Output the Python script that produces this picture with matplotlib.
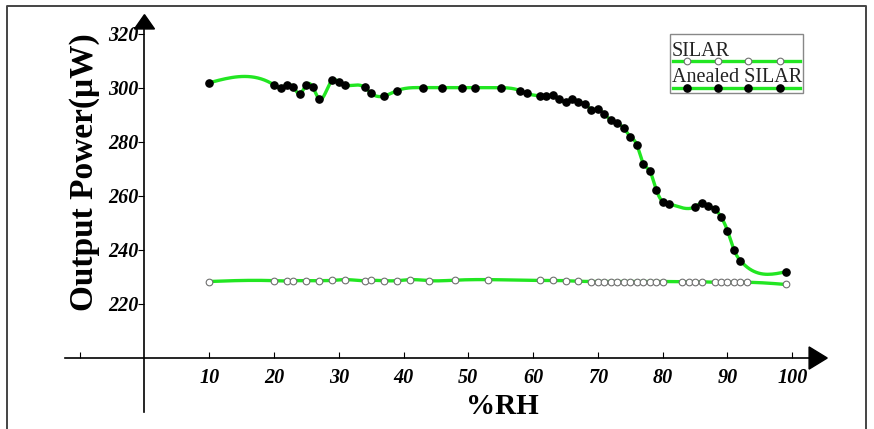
import numpy as np
import matplotlib
matplotlib.use('Agg')
import matplotlib.pyplot as plt

rh_silar = [10, 20, 22, 23, 25, 27, 29, 31, 34, 35, 37, 39, 41, 44, 48, 53,
            61, 63, 65, 67, 69, 70, 71, 72, 73, 74, 75, 76, 77, 78, 79, 80,
            83, 84, 85, 86, 88, 89, 90, 91, 92, 93, 99]
pw_silar = [228.3, 228.6, 228.5, 228.6, 228.6, 228.6, 228.7, 229.0, 228.6, 228.7,
            228.6, 228.6, 229.0, 228.6, 228.8, 229.0,
            228.7, 228.7, 228.6, 228.4, 228.3, 228.3, 228.3, 228.3, 228.3, 228.3,
            228.3, 228.3, 228.3, 228.3, 228.3, 228.3,
            228.2, 228.2, 228.2, 228.2, 228.0, 228.0, 228.0, 228.0, 228.0, 228.0, 227.2]

rh_aneal = [10, 20, 21, 22, 23, 24, 25, 26, 27, 29, 30, 31, 34, 35, 37, 39, 43, 46,
            49, 51, 55, 58, 59, 61, 62, 63, 64, 65, 66, 67, 68, 69, 70, 71, 72, 73,
            74, 75, 76, 77, 78, 79, 80, 81, 85, 86, 87, 88, 89, 90, 91, 92, 99]
pw_aneal = [301.8, 301.0, 300.0, 301.1, 300.1, 297.7, 301.1, 300.1, 295.7, 302.8,
            302.1, 300.9, 300.1, 297.9, 296.9, 298.9, 300.0, 300.0, 300.0, 300.0,
            300.0, 298.9, 297.9, 297.0, 297.0, 297.1, 295.8, 294.7, 295.8, 294.8,
            294.0, 291.9, 292.0, 290.2, 288.0, 286.8, 285.0, 281.9, 278.9, 271.9,
            269.2, 262.3, 257.8, 256.9, 256.0, 257.2, 256.2, 255.2, 252.2, 247.1,
            240.0, 236.0, 231.9]

x_ticks = [-10, 10, 20, 30, 40, 50, 60, 70, 80, 90, 100]
x_labels = ['', '10', '20', '30', '40', '50', '60', '70', '80', '90', '100']
y_ticks = [220, 240, 260, 280, 300, 320]

GREEN = '#22e622'
plt.rcParams['font.family'] = 'Liberation Serif'


def smooth(xs, ys, pts=20):
    # natural cubic spline through the measured points (for the drawn curve)
    x = np.asarray(xs, float)
    y = np.asarray(ys, float)
    n = len(x)
    h = np.diff(x)
    A = np.zeros((n, n))
    b = np.zeros(n)
    A[0, 0] = A[-1, -1] = 1
    for i in range(1, n - 1):
        A[i, i - 1] = h[i - 1]
        A[i, i] = 2 * (h[i - 1] + h[i])
        A[i, i + 1] = h[i]
        b[i] = 3 * ((y[i + 1] - y[i]) / h[i] - (y[i] - y[i - 1]) / h[i - 1])
    c = np.linalg.solve(A, b)
    xx, yy = [], []
    for i in range(n - 1):
        t = np.linspace(0, h[i], pts, endpoint=False)
        bi = (y[i + 1] - y[i]) / h[i] - h[i] * (2 * c[i] + c[i + 1]) / 3
        di = (c[i + 1] - c[i]) / (3 * h[i])
        xx.append(x[i] + t)
        yy.append(y[i] + bi * t + c[i] * t ** 2 + di * t ** 3)
    xx.append([x[-1]])
    yy.append([y[-1]])
    return np.concatenate(xx), np.concatenate(yy)


fig = plt.figure(figsize=(8.74, 4.29), dpi=100)
ax = fig.add_axes([0.07265, 0.0268, 0.8857, 0.958])
ax.set_xlim(-12.5, 107)
ax.set_ylim(178, 330)

sx, sy = smooth(rh_silar, pw_silar)
ax.plot(sx, sy, color=GREEN, lw=2.4, zorder=2)
ax.plot(rh_silar, pw_silar, 'o', ms=4.8, mfc='white', mec='#707070', mew=0.8, zorder=3)
ax_, ay_ = smooth(rh_aneal, pw_aneal)
ax.plot(ax_, ay_, color=GREEN, lw=2.4, zorder=2)
ax.plot(rh_aneal, pw_aneal, 'o', ms=5.2, color='black', zorder=3)

for s in ['top', 'right']:
    ax.spines[s].set_visible(False)
ax.spines['left'].set_position(('data', 0))
ax.spines['bottom'].set_position(('data', 200))
ax.spines['left'].set_bounds(180, 322)
ax.spines['bottom'].set_bounds(-12.3, 103)
ax.spines['left'].set_linewidth(1.2)
ax.spines['bottom'].set_linewidth(1.2)

# arrow heads
ax.fill([-1.55, 1.55, 0], [321.7, 321.7, 327.0], color='black', clip_on=False, zorder=4)
ax.fill([102.6, 102.6, 105.4], [195.9, 204.1, 200], color='black', clip_on=False, zorder=4)

ax.set_xticks(x_ticks)
ax.set_xticklabels(x_labels)
ax.set_yticks(y_ticks)
ax.tick_params(axis='x', direction='in', length=4, width=0.8, pad=7)
ax.tick_params(axis='y', direction='out', length=4, width=0.8, pad=0.5)
for lab in ax.get_xticklabels() + ax.get_yticklabels():
    lab.set_fontsize(14.5)
    lab.set_fontweight('bold')
    lab.set_fontstyle('italic')

fig.text(85 / 874, 1 - 172 / 429, 'Output Power(\u03bcW)', rotation=90,
         ha='center', va='center', fontsize=24, fontweight='bold')
fig.text(502 / 874, 1 - 406 / 429, '%RH', ha='center', va='center',
         fontsize=21, fontweight='bold')

# overlay in pixel coordinates for the frame and the legend
ov = fig.add_axes([0, 0, 1, 1], facecolor='none')
ov.set_xlim(0, 874)
ov.set_ylim(429, 0)
ov.axis('off')
ov.plot([7, 7, 866, 866], [430, 6, 6, 430], color='#444444', lw=1.4)
ov.add_patch(plt.Rectangle((670, 34), 133, 59, fill=False, ec='#888888', lw=1))
ov.text(672, 56, 'SILAR', fontsize=14.5, va='baseline', ha='left', color='#222222')
ov.text(672, 82.5, 'Anealed SILAR', fontsize=14.5, va='baseline', ha='left', color='#222222')
leg_x = [686.7, 717.7, 748.3, 780]
ov.plot([673, 800], [61, 61], color=GREEN, lw=2.4)
ov.plot(leg_x, [61] * 4, 'o', ms=4.8, mfc='white', mec='#707070', mew=0.8)
ov.plot([673, 800], [87.7, 87.7], color=GREEN, lw=2.4)
ov.plot(leg_x, [87.7] * 4, 'o', ms=5.2, color='black')

fig.savefig('out.png', dpi=100)
